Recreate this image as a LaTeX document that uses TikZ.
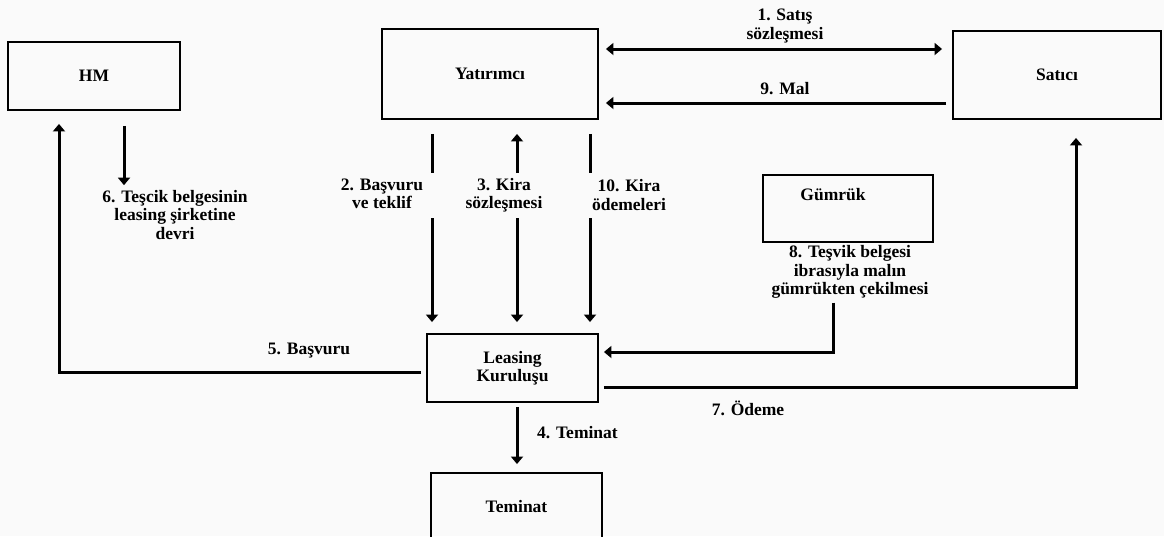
\documentclass[tikz,border=0pt]{standalone}
\usepackage{fontspec}
\setmainfont{Liberation Serif}
\usetikzlibrary{arrows.meta,calc}
\definecolor{paper}{RGB}{250,250,250}
\begin{document}
\begin{tikzpicture}[x=1pt,y=-1pt,
  every node/.style={font=\bfseries\fontsize{17.5}{18.5}\selectfont},
  box/.style={draw,line width=1.9pt,inner sep=0pt,align=center},
  lbl/.style={align=center,inner sep=0pt},
  conn/.style={line width=3pt},
  >={Triangle[length=7.5pt,width=12pt]}
]
\useasboundingbox (0,0) rectangle (1164,536);
\fill[paper] (0,0) rectangle (1164,536);
\clip (0,0) rectangle (1164,536);

% parties
\node[box,minimum width=172pt,minimum height=68pt] (hm)  at (94,76)     {HM};
\node[box,minimum width=216pt,minimum height=90pt] (yat) at (490,74)    {Yatırımcı};
\node[box,minimum width=208pt,minimum height=88pt] (sat) at (1057,75)   {Satıcı};
\node[box,minimum width=170pt,minimum height=67pt] (gum) at (848,208.5) {};
\node[lbl] (gumt) at (833,195) {Gümrük};
\node[box,minimum width=171pt,minimum height=68pt] (lea) at (512.5,368) {Leasing\\Kuruluşu};
\node[box,minimum width=171pt,minimum height=68pt] (tem) at (516.5,507) {Teminat};

% step labels
\node[lbl] (l1)  at (785,26)  {1. Satış\\sözleşmesi};
\node[lbl] (l9)  at (785,89)  {9. Mal};
\node[lbl] (l2)  at (382,194) {2. Başvuru\\ve teklif};
\node[lbl] (l3)  at (504,195) {3. Kira\\sözleşmesi};
\node[lbl] (l10) at (629,195) {10. Kira\\ödemeleri};
\node[lbl] (l6)  at (175,215) {6. Teşcik belgesinin\\leasing şirketine\\devri};
\node[lbl] (l8)  at (850,272) {8. Teşvik belgesi\\ibrasıyla malın\\gümrükten çekilmesi};
\node[lbl] (l5)  at (309,351) {5. Başvuru};
\node[lbl] (l7)  at (748,408) {7. Ödeme};
\node[lbl,anchor=west] (l4) at (537,433) {4. Teminat};

% 1 and 9: investor <-> seller
\draw[conn,<->,shorten <=7pt,shorten >=10pt] (yat.east |- 0,49) -- (sat.west |- 0,49);
\draw[conn,->,shorten <=6pt,shorten >=7pt] (sat.west |- 0,103) -- (yat.east |- 0,103);

% 2, 3, 10: investor <-> leasing, broken around their labels
\coordinate (c2a) at (432,173);  \coordinate (c2b) at (432,218);
\coordinate (c3a) at (517,173);  \coordinate (c3b) at (517,218);
\coordinate (c10a) at (590,173); \coordinate (c10b) at (590,218);
\draw[conn,shorten <=14pt] (yat.south -| c2a) -- (c2a);
\draw[conn,->,shorten >=11pt] (c2b) -- (lea.north -| c2b);
\draw[conn,->,shorten >=14pt] (c3a) -- (yat.south -| c3a);
\draw[conn,->,shorten >=11pt] (c3b) -- (lea.north -| c3b);
\draw[conn,shorten <=14pt] (yat.south -| c10a) -- (c10a);
\draw[conn,->,shorten >=11pt] (c10b) -- (lea.north -| c10b);

% 4: leasing -> guarantee
\draw[conn,->,shorten <=4pt,shorten >=8pt] (lea.south -| 517,0) -- (tem.north -| 517,0);

% 5 and 6: leasing <-> HM
\draw[conn,->,shorten <=5pt,shorten >=13pt] (lea.west |- 0,372) -| (hm.south -| 59,0);
\draw[conn,->,shorten <=15pt,shorten >=5pt] (hm.south -| 124,0) -- (l6.north -| 124,0);

% 7: payment to seller
\draw[conn,->,shorten <=5pt,shorten >=18pt] (lea.east |- 0,387) -| (sat.south -| 1076,0);

% 8: customs clearance
\draw[conn,->,shorten <=4pt,shorten >=5pt] (l8.south -| 833,0) |- (lea.east |- 0,352);
\end{tikzpicture}
\end{document}
